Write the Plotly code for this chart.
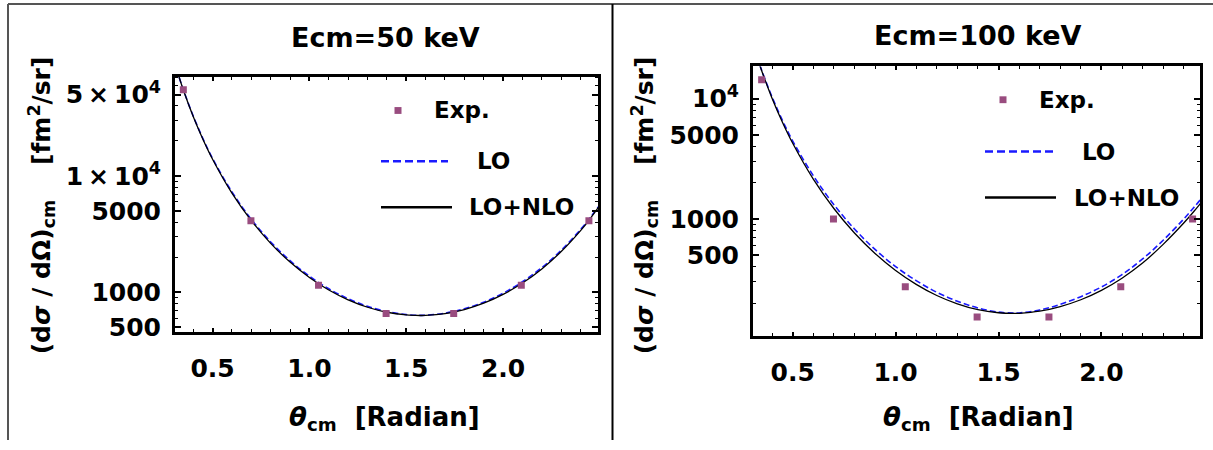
import plotly.graph_objects as go

# ---------------- data ----------------
theta_exp = [0.349, 0.698, 1.047, 1.396, 1.745, 2.094, 2.443]
exp_50 = [55200, 4130, 1150, 658, 658, 1150, 4130]
exp_100 = [14360, 1000, 273, 153, 153, 273, 1000]

theta_curve = [0.30, 0.32, 0.35, 0.40, 0.45, 0.50, 0.60, 0.70, 0.80, 0.90, 1.00,
               1.10, 1.20, 1.30, 1.40, 1.50, 1.571, 1.60, 1.70, 1.80, 1.90, 2.00,
               2.10, 2.20, 2.30, 2.40, 2.45, 2.50]

nlo_50 = [99200, 77100, 54420, 32510, 20745, 13950, 7131, 4132, 2637, 1819, 1340,
          1046, 861, 744, 674, 639, 632, 633, 656, 711, 806, 959,
          1201, 1590, 2240, 3392, 4309, 5609]
lo_50 = [99300, 77300, 54600, 32800, 21000, 14150, 7300, 4240, 2710, 1870, 1375,
         1072, 880, 757, 683, 643, 634, 635, 662, 722, 822, 982,
         1232, 1632, 2300, 3470, 4390, 5680]

nlo_100 = [31005, 24060, 16930, 10060, 6380, 4261, 2145, 1222, 765, 517, 373,
           286, 231, 197, 176, 166, 164, 164.4, 171, 187, 213, 255,
           322, 430, 615, 925, 1160, 1480]
lo_100 = [31100, 24150, 17100, 10300, 6600, 4450, 2290, 1315, 826, 558, 402,
          307, 246, 207, 182, 168, 165, 165.5, 175, 195, 226, 272,
          345, 465, 665, 1000, 1250, 1590]

x_ticks = [0.5, 1.0, 1.5, 2.0]
x_ticktext = ["0.5", "1.0", "1.5", "2.0"]
y_ticks_50 = [500, 1000, 5000, 10000, 50000]
y_ticktext_50 = ["500", "1000", "5000", "1\u2009\u00d7\u200910<sup>4</sup>", "5\u2009\u00d7\u200910<sup>4</sup>"]
y_ticks_100 = [500, 1000, 5000, 10000]
y_ticktext_100 = ["500", "1000", "5000", "10<sup>4</sup>"]

titles = ["Ecm=50 keV", "Ecm=100 keV"]

# ---------------- style ----------------
W, H = 1213, 450
FONT = "DejaVu Sans"
EXP_COLOR = "#994c7f"
LO_COLOR = "#1a1aff"
NLO_COLOR = "#000000"


def px(x):
    return x / W


def py(y):
    return 1 - y / H


fig = go.Figure()

panels = [
    dict(xa="x", ya="y", exp=exp_50, lo=lo_50, nlo=nlo_50,
         xdom=[px(175), px(598)], ydom=[py(340), py(78.3)],
         xr=[0.306, 2.49], yr=[2.655, 4.855],
         yt=y_ticks_50, ytt=y_ticktext_50),
    dict(xa="x2", ya="y2", exp=exp_100, lo=lo_100, nlo=nlo_100,
         xdom=[px(753), px(1200)], ydom=[py(344), py(68)],
         xr=[0.307, 2.479], yr=[2.024, 4.268],
         yt=y_ticks_100, ytt=y_ticktext_100),
]

for p in panels:
    fig.add_trace(go.Scatter(x=theta_curve, y=p["lo"], mode="lines", xaxis=p["xa"], yaxis=p["ya"],
                             line=dict(color=LO_COLOR, width=1.6, dash="6px,3px", shape="spline", smoothing=1.0),
                             showlegend=False))
    fig.add_trace(go.Scatter(x=theta_curve, y=p["nlo"], mode="lines", xaxis=p["xa"], yaxis=p["ya"],
                             line=dict(color=NLO_COLOR, width=1.3, shape="spline", smoothing=1.0),
                             showlegend=False))
    fig.add_trace(go.Scatter(x=theta_exp, y=p["exp"], mode="markers", xaxis=p["xa"], yaxis=p["ya"],
                             marker=dict(symbol="square", size=7, color=EXP_COLOR, line=dict(width=0)),
                             cliponaxis=True, showlegend=False))


def minor_log(lo, hi):
    vals = []
    for k in range(1, 6):
        for m in range(2, 10):
            v = m * 10 ** k
            if 10 ** lo <= v <= 10 ** hi:
                vals.append(v)
    return vals


tickfont = dict(family=FONT, size=25, color="black", weight="bold")
layout = dict(width=W, height=H, margin=dict(l=0, r=0, t=0, b=0),
              paper_bgcolor="white", plot_bgcolor="white", showlegend=False)

for i, p in enumerate(panels):
    sfx = "" if i == 0 else "2"
    layout["xaxis" + sfx] = dict(
        domain=p["xdom"], range=p["xr"], anchor="y" + sfx,
        showline=True, linewidth=3, linecolor="black", mirror="allticks",
        ticks="inside", ticklen=4, tickwidth=1.5, tickcolor="black",
        tickmode="array", tickvals=x_ticks, ticktext=x_ticktext,
        tickfont=tickfont, ticklabelstandoff=12,
        minor=dict(ticks="inside", ticklen=3, tickwidth=1.2, tickcolor="black",
                   tickmode="array", tickvals=[round(0.1 * k, 1) for k in range(3, 26)]),
        showgrid=False, zeroline=False, fixedrange=True)
    layout["yaxis" + sfx] = dict(
        domain=p["ydom"], range=p["yr"], type="log", anchor="x" + sfx,
        showline=True, linewidth=3, linecolor="black", mirror="allticks",
        ticks="inside", ticklen=6, tickwidth=1.5, tickcolor="black",
        tickmode="array", tickvals=p["yt"], ticktext=p["ytt"],
        tickfont=tickfont, ticklabelstandoff=6,
        minor=dict(ticks="inside", ticklen=3, tickwidth=1.2, tickcolor="black",
                   tickmode="array", tickvals=minor_log(p["yr"][0], p["yr"][1])),
        showgrid=False, zeroline=False, fixedrange=True)

fig.update_layout(**layout)

ann = []
bold = dict(family=FONT, color="black", weight="bold")
NB = "\u00a0"
# panel titles
for (cx, cy, t) in [(385, 38, titles[0]), (978, 36, titles[1])]:
    ann.append(dict(x=px(cx), y=py(cy), xref="paper", yref="paper", text=t, showarrow=False,
                    xanchor="center", yanchor="middle", font=dict(size=27, **bold)))
# x titles
xlab = "<i>\u03b8</i><sub>cm</sub>" + NB * 2 + "[Radian]"
for cx in [384, 978]:
    ann.append(dict(x=px(cx), y=py(428), xref="paper", yref="paper", text=xlab, showarrow=False,
                    xanchor="center", yanchor="middle", font=dict(size=26, **bold)))
# y titles
ylab = "(d<i>\u03c3</i>" + NB + "/" + NB + "d\u03a9)<sub>cm</sub>" + NB * 4 + "[fm<sup>2</sup>/sr]"
for cx in [42, 645]:
    ann.append(dict(x=px(cx), y=py(210), xref="paper", yref="paper", text=ylab, showarrow=False,
                    textangle=-90, xanchor="center", yanchor="middle", font=dict(size=25, **bold)))

shapes = []
# legends
legs = [
    dict(mx=398, my=113, tx=432, ly1=165, ly2=212, lx0=381, lx1=448, lx1b=452, t2=475, t3=467),
    dict(mx=1003, my=102, tx=1037, ly1=155, ly2=202, lx0=985, lx1=1053, lx1b=1056, t2=1080, t3=1072),
]
for L in legs:
    shapes.append(dict(type="rect", xref="paper", yref="paper",
                       x0=px(L["mx"] - 3.5), x1=px(L["mx"] + 3.5), y0=py(L["my"] + 3.5), y1=py(L["my"] - 3.5),
                       fillcolor=EXP_COLOR, line=dict(width=0)))
    ann.append(dict(x=px(L["tx"]), y=py(L["my"]), xref="paper", yref="paper", text="Exp.", showarrow=False,
                    xanchor="left", yanchor="middle", font=dict(size=23, **bold)))
    shapes.append(dict(type="line", xref="paper", yref="paper", x0=px(L["lx0"]), x1=px(L["lx1"]),
                       y0=py(L["ly1"]), y1=py(L["ly1"]), line=dict(color=LO_COLOR, width=2.5, dash="8px,4px")))
    ann.append(dict(x=px(L["t2"]), y=py(L["ly1"]), xref="paper", yref="paper", text="LO", showarrow=False,
                    xanchor="left", yanchor="middle", font=dict(size=23, **bold)))
    shapes.append(dict(type="line", xref="paper", yref="paper", x0=px(L["lx0"]), x1=px(L["lx1b"]),
                       y0=py(L["ly2"]), y1=py(L["ly2"]), line=dict(color="black", width=2.5)))
    ann.append(dict(x=px(L["t3"]), y=py(L["ly2"]), xref="paper", yref="paper", text="LO+NLO", showarrow=False,
                    xanchor="left", yanchor="middle", font=dict(size=23, **bold)))

# outer border (top and left) and panel separator
shapes.append(dict(type="line", xref="paper", yref="paper", x0=px(8), x1=1, y0=py(4), y1=py(4),
                   line=dict(color="#555555", width=2)))
shapes.append(dict(type="line", xref="paper", yref="paper", x0=px(8), x1=px(8), y0=py(4), y1=0,
                   line=dict(color="#555555", width=2)))
shapes.append(dict(type="line", xref="paper", yref="paper", x0=px(612.5), x1=px(612.5), y0=py(4), y1=0,
                   line=dict(color="black", width=2)))

fig.update_layout(annotations=ann, shapes=shapes)
fig.write_html("out.html")
